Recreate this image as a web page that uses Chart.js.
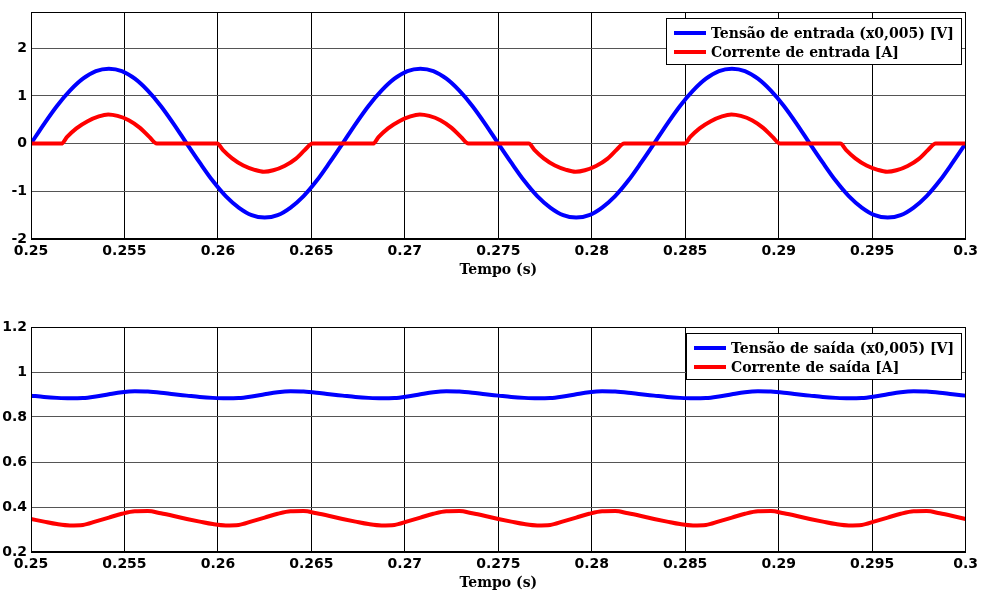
<!DOCTYPE html>
<html>
<head>
<meta charset="utf-8">
<script src="https://cdn.jsdelivr.net/npm/chart.js@4.4.0/dist/chart.umd.min.js"></script>
<style>
    html, body { margin: 0; padding: 0; background: #fff; }
    #wrap { position: relative; width: 982px; height: 594px; }
    canvas { position: absolute; left: 0; }
    #inputChart { top: 0; }
    #outputChart { top: 300px; }
</style>
</head>
<body>
<div id="wrap">
    <canvas id="inputChart" width="982" height="300"></canvas>
    <canvas id="outputChart" width="982" height="294"></canvas>
</div>
<script>
// Axis ticks
const timeTicks = [0.25, 0.255, 0.26, 0.265, 0.27, 0.275, 0.28, 0.285, 0.29, 0.295, 0.3];
const inTicks = [-2, -1, 0, 1, 2];
const outTicks = [0.2, 0.4, 0.6, 0.8, 1, 1.2];

// sampling of the read-off curves: starts at 0.25 s, one sample every 1/1440 s
const t0 = 0.25;
const dt = 1 / 1440;

// Tensão de entrada (x0,005) [V]
const inVoltage = [
    0, 0.41, 0.79, 1.11, 1.36, 1.52, 1.57, 1.52, 1.36, 1.11, 0.79, 0.41,
    0, -0.40, -0.78, -1.10, -1.34, -1.50, -1.55, -1.50, -1.34, -1.10, -0.78, -0.40,
    0, 0.41, 0.79, 1.11, 1.36, 1.52, 1.57, 1.52, 1.36, 1.11, 0.79, 0.41,
    0, -0.40, -0.78, -1.10, -1.34, -1.50, -1.55, -1.50, -1.34, -1.10, -0.78, -0.40,
    0, 0.41, 0.79, 1.11, 1.36, 1.52, 1.57, 1.52, 1.36, 1.11, 0.79, 0.41,
    0, -0.40, -0.78, -1.10, -1.34, -1.50, -1.55, -1.50, -1.34, -1.10, -0.78, -0.40,
    0
];

// Corrente de entrada [A] (own time points, the pulses have sharp corners)
const inCurrentTime = [
    0.25,
    0.25163, 0.25193, 0.25243, 0.25303, 0.25363, 0.25413, 0.25463, 0.25523, 0.25583, 0.25633, 0.25673,
    0.25996, 0.26026, 0.26076, 0.26136, 0.26196, 0.26246, 0.26296, 0.26356, 0.26416, 0.26466, 0.26506,
    0.26830, 0.26860, 0.26910, 0.26970, 0.27030, 0.27080, 0.27130, 0.27190, 0.27250, 0.27300, 0.27340,
    0.27663, 0.27693, 0.27743, 0.27803, 0.27863, 0.27913, 0.27963, 0.28023, 0.28083, 0.28133, 0.28173,
    0.28497, 0.28527, 0.28577, 0.28637, 0.28697, 0.28747, 0.28797, 0.28857, 0.28917, 0.28967, 0.29007,
    0.29330, 0.29360, 0.29410, 0.29470, 0.29530, 0.29580, 0.29630, 0.29690, 0.29750, 0.29800, 0.29840,
    0.3
];
const inCurrent = [
    0,
    0, 0.14, 0.32, 0.47, 0.57, 0.61, 0.58, 0.49, 0.33, 0.14, 0,
    0, -0.13, -0.31, -0.46, -0.55, -0.59, -0.56, -0.47, -0.32, -0.13, 0,
    0, 0.14, 0.32, 0.47, 0.57, 0.61, 0.58, 0.49, 0.33, 0.14, 0,
    0, -0.13, -0.31, -0.46, -0.55, -0.59, -0.56, -0.47, -0.32, -0.13, 0,
    0, 0.14, 0.32, 0.47, 0.57, 0.61, 0.58, 0.49, 0.33, 0.14, 0,
    0, -0.13, -0.31, -0.46, -0.55, -0.59, -0.56, -0.47, -0.32, -0.13, 0,
    0
];

// Tensão de saída (x0,005) [V]
const outVoltage = [
    0.895, 0.889, 0.885, 0.883, 0.884, 0.891, 0.901, 0.910, 0.914, 0.913, 0.908, 0.901,
    0.895, 0.889, 0.885, 0.883, 0.884, 0.891, 0.901, 0.910, 0.914, 0.913, 0.908, 0.901,
    0.895, 0.889, 0.885, 0.883, 0.884, 0.891, 0.901, 0.910, 0.914, 0.913, 0.908, 0.901,
    0.895, 0.889, 0.885, 0.883, 0.884, 0.891, 0.901, 0.910, 0.914, 0.913, 0.908, 0.901,
    0.895, 0.889, 0.885, 0.883, 0.884, 0.891, 0.901, 0.910, 0.914, 0.913, 0.908, 0.901,
    0.895, 0.889, 0.885, 0.883, 0.884, 0.891, 0.901, 0.910, 0.914, 0.913, 0.908, 0.901,
    0.895
];

// Corrente de saída [A]
const outCurrent = [
    0.347, 0.335, 0.324, 0.318, 0.320, 0.336, 0.353, 0.370, 0.381, 0.382, 0.372, 0.360,
    0.347, 0.335, 0.324, 0.318, 0.320, 0.336, 0.353, 0.370, 0.381, 0.382, 0.372, 0.360,
    0.347, 0.335, 0.324, 0.318, 0.320, 0.336, 0.353, 0.370, 0.381, 0.382, 0.372, 0.360,
    0.347, 0.335, 0.324, 0.318, 0.320, 0.336, 0.353, 0.370, 0.381, 0.382, 0.372, 0.360,
    0.347, 0.335, 0.324, 0.318, 0.320, 0.336, 0.353, 0.370, 0.381, 0.382, 0.372, 0.360,
    0.347, 0.335, 0.324, 0.318, 0.320, 0.336, 0.353, 0.370, 0.381, 0.382, 0.372, 0.360,
    0.347
];

const sampled = (values) => values.map((v, i) => ({ x: t0 + i * dt, y: v }));

// box round the plot area + legend in the top right corner (MATLAB look)
const frameAndLegend = {
    id: 'frameAndLegend',
    afterDraw(chart) {
        const { ctx, chartArea } = chart;
        const sets = chart.data.datasets;
        ctx.save();
        ctx.strokeStyle = '#000';
        ctx.lineWidth = 1;
        ctx.strokeRect(Math.round(chartArea.left) + 0.5, Math.round(chartArea.top) + 0.5,
            Math.round(chartArea.right - chartArea.left) - 1, Math.round(chartArea.bottom - chartArea.top) - 1);

        ctx.font = 'bold 14px "DejaVu Serif"';
        let textW = 0;
        sets.forEach(ds => { textW = Math.max(textW, ctx.measureText(ds.label).width); });
        const w = Math.round(8 + 32 + 5 + textW + 7);
        const h = 46;
        const x0 = Math.round(chartArea.right) - 5 - w;
        const y0 = Math.round(chartArea.top) + 6;
        ctx.fillStyle = '#fff';
        ctx.fillRect(x0, y0, w, h);
        ctx.strokeStyle = '#000';
        ctx.lineWidth = 1;
        ctx.strokeRect(x0 + 0.5, y0 + 0.5, w, h);
        sets.forEach((ds, i) => {
            const yy = y0 + 15 + i * 19;
            ctx.strokeStyle = ds.borderColor;
            ctx.lineWidth = 4;
            ctx.beginPath();
            ctx.moveTo(x0 + 8, yy);
            ctx.lineTo(x0 + 40, yy);
            ctx.stroke();
            ctx.fillStyle = '#000';
            ctx.textBaseline = 'middle';
            ctx.fillText(ds.label, x0 + 45, yy + 1);
        });
        ctx.restore();
    }
};

function buildOptions(yMin, yMax, yTicks, padTop, axisHeight, titlePad) {
    return {
        responsive: false,
        animation: false,
        layout: { padding: { top: padTop, right: 15, left: 0, bottom: 0 } },
        plugins: { legend: { display: false }, tooltip: { enabled: false } },
        elements: { point: { radius: 0 } },
        scales: {
            x: {
                type: 'linear',
                min: 0.25,
                max: 0.3,
                afterBuildTicks: axis => { axis.ticks = timeTicks.map(v => ({ value: v })); },
                afterFit: axis => { axis.height = axisHeight; },
                grid: { color: '#000', lineWidth: 1, drawTicks: false },
                border: { color: '#000', width: 1 },
                ticks: {
                    color: '#000',
                    font: { family: 'DejaVu Sans', weight: 'bold', size: 14 },
                    padding: 4,
                    maxRotation: 0,
                    autoSkip: false,
                    callback: v => String(v)
                },
                title: {
                    display: true,
                    text: 'Tempo (s)',
                    color: '#000',
                    font: { family: 'DejaVu Serif', weight: 'bold', size: 14 },
                    padding: { top: 0, bottom: titlePad }
                }
            },
            y: {
                min: yMin,
                max: yMax,
                afterBuildTicks: axis => { axis.ticks = yTicks.map(v => ({ value: v })); },
                afterFit: axis => { axis.width = 31; },
                grid: { color: '#555', lineWidth: 1, drawTicks: false },
                border: { color: '#000', width: 1 },
                ticks: {
                    color: '#000',
                    font: { family: 'DejaVu Sans', weight: 'bold', size: 14 },
                    padding: 4,
                    autoSkip: false,
                    callback: v => String(v)
                }
            }
        }
    };
}

new Chart(document.getElementById('inputChart'), {
    type: 'line',
    data: {
        datasets: [
            {
                label: 'Tensão de entrada (x0,005) [V]',
                data: sampled(inVoltage),
                borderColor: '#0000ff',
                backgroundColor: '#0000ff',
                borderWidth: 4,
                cubicInterpolationMode: 'monotone',
                order: 1
            },
            {
                label: 'Corrente de entrada [A]',
                data: inCurrentTime.map((t, i) => ({ x: t, y: inCurrent[i] })),
                borderColor: '#ff0000',
                backgroundColor: '#ff0000',
                borderWidth: 4,
                cubicInterpolationMode: 'monotone',
                order: 0
            }
        ]
    },
    options: buildOptions(-2, 2.75, inTicks, 12, 61, 21),
    plugins: [frameAndLegend]
});

new Chart(document.getElementById('outputChart'), {
    type: 'line',
    data: {
        datasets: [
            {
                label: 'Tensão de saída (x0,005) [V]',
                data: sampled(outVoltage),
                borderColor: '#0000ff',
                backgroundColor: '#0000ff',
                borderWidth: 4,
                cubicInterpolationMode: 'monotone',
                order: 1
            },
            {
                label: 'Corrente de saída [A]',
                data: sampled(outCurrent),
                borderColor: '#ff0000',
                backgroundColor: '#ff0000',
                borderWidth: 4,
                cubicInterpolationMode: 'monotone',
                order: 0
            }
        ]
    },
    options: buildOptions(0.2, 1.2, outTicks, 27, 42, 2),
    plugins: [frameAndLegend]
});
</script>
</body>
</html>
